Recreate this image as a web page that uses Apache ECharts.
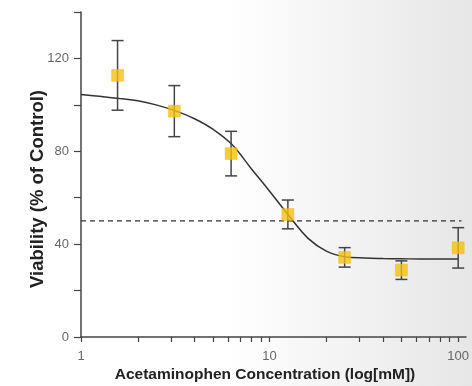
<!DOCTYPE html>
<html>
<head>
<meta charset="utf-8">
<script src="https://cdn.jsdelivr.net/npm/echarts@6/dist/echarts.min.js"></script>
<style>
html,body{margin:0;padding:0;}
body{width:472px;height:386px;background:linear-gradient(to right,#ffffff 0%,#ffffff 48%,#e6e6e6 100%);}
#chart{width:472px;height:386px;}
</style>
</head>
<body>
<div id="chart"></div>
<script>
// Measured points (concentration mM, viability % of control, error)
const concentrations = [1.5625, 3.125, 6.25, 12.5, 25, 50, 100];
const viability = [112.7, 97.3, 79.0, 52.8, 34.3, 28.8, 38.4];
const errors = [15, 11, 9.6, 6.2, 4.2, 4.0, 8.7];
// Fitted curve
const curveX = [1, 1.25, 1.6, 2, 2.5, 3.2, 4, 5, 6.3, 8, 10, 12.5, 16, 20, 25, 32, 40, 50, 63, 80, 100];
const curveY = [104.5, 103.7, 102.7, 101.8, 100, 97.3, 94, 89.5, 83, 72.5, 62.8, 52.8, 42.5, 37, 34.6, 34, 33.8, 33.7, 33.6, 33.6, 33.6];
// Reference (50%) line
const refLineX = [1, 104];
const refLineY = [50, 50];
// Axis ticks
const xTickValues = [1, 2, 3, 4, 5, 6, 7, 8, 9, 10, 20, 30, 40, 50, 60, 70, 80, 90, 100];
const xLabelValues = [1, 10, 100];
const yLabelValues = [0, 40, 80, 120];
// Titles
const xTitle = 'Acetaminophen Concentration (log[mM])';
const yTitle = 'Viability (% of Control)';

const chart = echarts.init(document.getElementById('chart'), null, {renderer: 'canvas'});
const axisColor = '#444';
const labelFont = {color: '#666', fontSize: 13, fontFamily: 'Liberation Sans, Arial, sans-serif'};
const titleFamily = 'Liberation Sans, Arial, sans-serif';

chart.setOption({
  backgroundColor: 'transparent',
  animation: false,
  grid: {left: 81, right: 6, top: 12, bottom: 49, containLabel: false, outerBoundsMode: 'none'},
  graphic: [
    {type: 'text', x: 265, y: 375, style: {text: xTitle, align: 'center', verticalAlign: 'middle',
      fill: '#222', font: 'bold 15.5px ' + titleFamily}},
    {type: 'text', x: 38, y: 189, rotation: Math.PI / 2, style: {text: yTitle, align: 'center', verticalAlign: 'middle',
      fill: '#222', font: 'bold 18.5px ' + titleFamily}}
  ],
  xAxis: {
    type: 'log', logBase: 10, min: 1, max: 110,
    axisLine: {lineStyle: {color: axisColor, width: 1.5}},
    axisTick: {show: true, length: 5, lineStyle: {color: axisColor, width: 1.2}, customValues: xTickValues},
    axisLabel: Object.assign({margin: 13, customValues: xLabelValues, formatter: v => String(Math.round(v))}, labelFont),
    splitLine: {show: false},
    minorTick: {show: false}
  },
  yAxis: {
    type: 'value', min: 0, max: 140, interval: 20,
    axisLine: {show: true, lineStyle: {color: axisColor, width: 1.5}},
    axisTick: {show: true, length: 7, lineStyle: {color: axisColor, width: 1.2}},
    axisLabel: Object.assign({margin: 12, customValues: yLabelValues}, labelFont),
    splitLine: {show: false}
  },
  series: [
    {
      type: 'line', name: 'ref', data: refLineX.map((x, i) => [x, refLineY[i]]),
      symbol: 'none', lineStyle: {color: '#333', width: 1.3, type: [5, 4]}, z: 1
    },
    {
      type: 'line', name: 'fit', data: curveX.map((x, i) => [x, curveY[i]]),
      smooth: 0.4, symbol: 'none', lineStyle: {color: '#333', width: 1.5}, z: 2
    },
    {
      type: 'custom', name: 'err', z: 3,
      data: concentrations.map((x, i) => [x, viability[i] - errors[i], viability[i] + errors[i]]),
      renderItem: function (params, api) {
        const lo = api.coord([api.value(0), api.value(1)]);
        const hi = api.coord([api.value(0), api.value(2)]);
        const hw = 6;
        const st = {stroke: '#444', lineWidth: 1.5};
        return {type: 'group', children: [
          {type: 'line', shape: {x1: lo[0], y1: lo[1], x2: hi[0], y2: hi[1]}, style: st},
          {type: 'line', shape: {x1: lo[0] - hw, y1: lo[1], x2: lo[0] + hw, y2: lo[1]}, style: st},
          {type: 'line', shape: {x1: hi[0] - hw, y1: hi[1], x2: hi[0] + hw, y2: hi[1]}, style: st}
        ]};
      }
    },
    {
      type: 'scatter', name: 'data', z: 4,
      data: concentrations.map((x, i) => [x, viability[i]]),
      symbol: 'rect', symbolSize: 12,
      itemStyle: {color: '#f4c10f', borderColor: '#f0b800', borderWidth: 0.5}
    }
  ]
});
</script>
</body>
</html>
